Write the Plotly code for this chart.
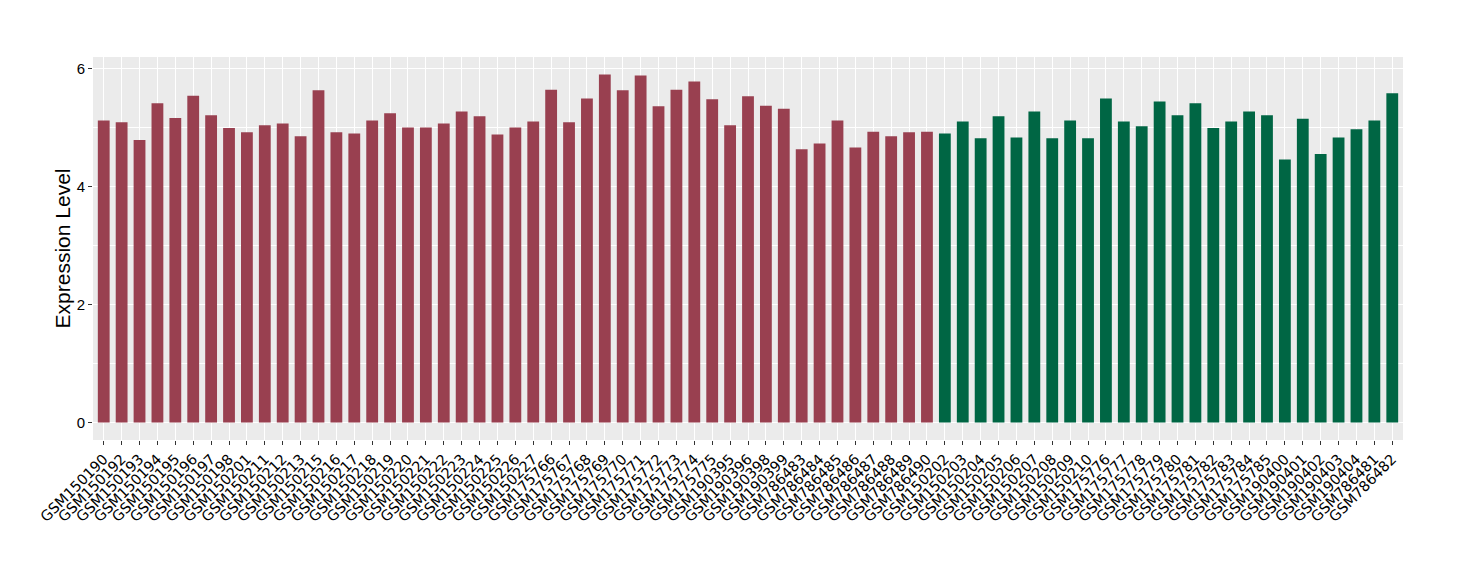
import plotly.graph_objects as go

red_samples = ["GSM150190", "GSM150192", "GSM150193", "GSM150194", "GSM150195", "GSM150196",
               "GSM150197", "GSM150198", "GSM150201", "GSM150211", "GSM150212", "GSM150213",
               "GSM150215", "GSM150216", "GSM150217", "GSM150218", "GSM150219", "GSM150220",
               "GSM150221", "GSM150222", "GSM150223", "GSM150224", "GSM150225", "GSM150226",
               "GSM150227", "GSM175766", "GSM175767", "GSM175768", "GSM175769", "GSM175770",
               "GSM175771", "GSM175772", "GSM175773", "GSM175774", "GSM175775", "GSM190395",
               "GSM190396", "GSM190398", "GSM190399", "GSM786483", "GSM786484", "GSM786485",
               "GSM786486", "GSM786487", "GSM786488", "GSM786489", "GSM786490"]
red_values = [5.12, 5.09, 4.79, 5.41, 5.16, 5.54, 5.21, 4.99, 4.92, 5.04, 5.07, 4.85,
              5.63, 4.92, 4.90, 5.12, 5.24, 5.00, 5.00, 5.07, 5.27, 5.19, 4.88, 5.00,
              5.10, 5.64, 5.09, 5.49, 5.90, 5.63, 5.88, 5.36, 5.64, 5.78, 5.48, 5.04,
              5.53, 5.37, 5.32, 4.63, 4.73, 5.12, 4.66, 4.93, 4.85, 4.92, 4.93]

green_samples = ["GSM150202", "GSM150203", "GSM150204", "GSM150205", "GSM150206", "GSM150207",
                 "GSM150208", "GSM150209", "GSM150210", "GSM175776", "GSM175777", "GSM175778",
                 "GSM175779", "GSM175780", "GSM175781", "GSM175782", "GSM175783", "GSM175784",
                 "GSM175785", "GSM190400", "GSM190401", "GSM190402", "GSM190403", "GSM190404",
                 "GSM786481", "GSM786482"]
green_values = [4.90, 5.10, 4.82, 5.19, 4.83, 5.27, 4.82, 5.12, 4.82, 5.49, 5.10, 5.02,
                5.44, 5.21, 5.41, 4.99, 5.10, 5.27, 5.21, 4.46, 5.15, 4.55, 4.83, 4.97,
                5.12, 5.58]

y_ticks = [0, 2, 4, 6]

all_samples = red_samples + green_samples

fig = go.Figure()
fig.add_trace(go.Bar(x=red_samples, y=red_values, marker_color="#994050",
                     marker_line_width=0, width=0.66, showlegend=False))
fig.add_trace(go.Bar(x=green_samples, y=green_values, marker_color="#006644",
                     marker_line_width=0, width=0.66, showlegend=False))

fig.update_layout(
    width=1460, height=580,
    margin=dict(l=85, r=65, t=49, b=148, autoexpand=False),
    paper_bgcolor="white",
    plot_bgcolor="#EBEBEB",
    barmode="overlay",
    font=dict(family="DejaVu Sans, Liberation Sans, sans-serif", color="black"),
    xaxis=dict(
        type="category",
        categoryorder="array",
        categoryarray=all_samples,
        range=[-0.6, len(all_samples) - 0.4],
        tickangle=-45,
        tickfont=dict(size=14.5, color="black"),
        showgrid=True, gridcolor="white", gridwidth=1.1,
        ticks="outside", ticklen=4, tickcolor="#333333",
        zeroline=False, showline=False, automargin=False,
    ),
    yaxis=dict(
        range=[-0.295, 6.195],
        tickvals=y_ticks,
        tickfont=dict(family="Liberation Sans, Arial, sans-serif", size=15, color="black"),
        showgrid=True, gridcolor="white", gridwidth=1.1,
        minor=dict(dtick=1, tick0=0, showgrid=True, gridcolor="white", gridwidth=0.5),
        ticks="outside", ticklen=4, tickcolor="#333333",
        zeroline=False, showline=False, automargin=False,
        title=dict(text="Expression Level",
                   font=dict(family="Liberation Sans, Arial, sans-serif", size=21, color="black"),
                   standoff=0),
    ),
)

fig.write_html("out.html")
